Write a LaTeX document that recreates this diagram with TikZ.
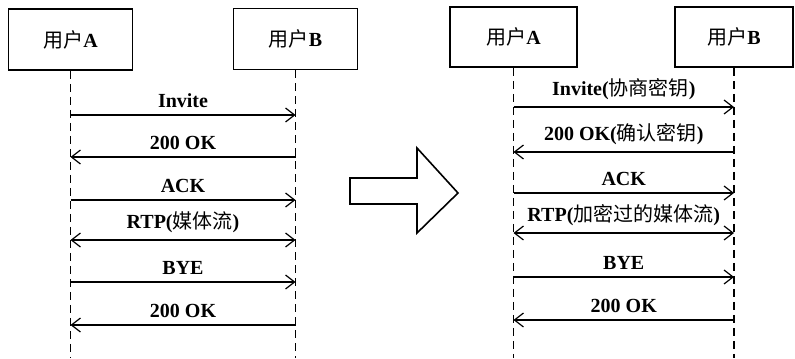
\documentclass[tikz,border=0pt]{standalone}
\usepackage{fontspec}
\setmainfont{Liberation Serif}
\newfontfamily\cjk{Noto Sans CJK SC}
\newcommand\zh[1]{{\cjk\mdseries #1}}
\usetikzlibrary{arrows.meta}

\begin{document}
\begin{tikzpicture}[x=0.5pt, y=-0.5pt,
    >={Straight Barb[length=4.5pt,width=7pt]},
    box/.style={rectangle, draw, line width=0.8pt, minimum width=62pt, minimum height=30.5pt, font=\bfseries},
    life/.style={dash pattern=on 4pt off 2.5pt, line width=0.6pt},
    msg/.style={line width=0.6pt},
    lbl/.style={above=1.5pt, inner sep=2pt, font=\bfseries},
    fwd/.style={->}, bwd/.style={<-}, both/.style={<->}]
    \useasboundingbox (0,0) rectangle (795,358);

    % left: plain SIP call
    \node[box] (la) at (70.5,39.5) {\zh{用户}A};
    \node[box] (lb) at (295.5,39) {\zh{用户}B};
    \coordinate (laend) at (la.south |- 0,358);
    \coordinate (lbend) at (lb.south |- 0,358);
    \draw[life] (la.south) -- (laend);
    \draw[life] (lb.south) -- (lbend);
    \foreach \y/\dir/\txt in {115/fwd/Invite, 157/bwd/200 OK, 200/fwd/ACK,
        240/both/{RTP(\zh{媒体流})}, 282/fwd/BYE, 325/bwd/200 OK}
        \draw[msg,\dir] (la.south |- 0,\y) -- (lb.south |- 0,\y)
            node[lbl, midway] {\txt};

    % big arrow in the middle
    \draw[line width=0.8pt] (350,178) -- (417,178) -- (417,148) -- (458,193)
        -- (417,233) -- (417,204) -- (350,204) -- cycle;

    % right: with key exchange
    \node[box, minimum width=63.5pt, minimum height=30pt] (ra) at (513.5,37) {\zh{用户}A};
    \node[box, minimum width=59pt, minimum height=30pt] (rb) at (734,37) {\zh{用户}B};
    \coordinate (raend) at (ra.south |- 0,358);
    \coordinate (rbend) at (rb.south |- 0,358);
    \draw[life] (ra.south) -- (raend);
    \draw[life] (rb.south) -- (rbend);
    \foreach \y/\dir/\txt in {107/fwd/{Invite(\zh{协商密钥})}, 152/bwd/{200 OK(\zh{确认密钥})},
        193/fwd/ACK, 233/both/{RTP(\zh{加密过的媒体流})}, 277/fwd/BYE, 320/bwd/200 OK}
        \draw[msg,\dir] (ra.south |- 0,\y) -- (rb.south |- 0,\y)
            node[lbl, midway] {\txt};
\end{tikzpicture}
\end{document}
